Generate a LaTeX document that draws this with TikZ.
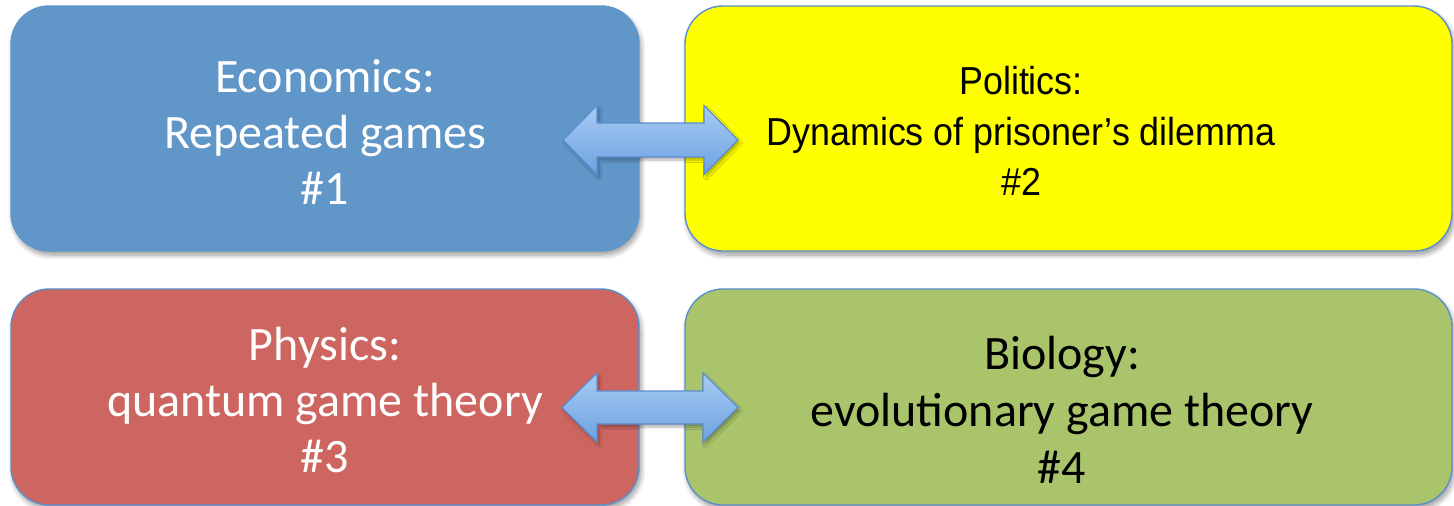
\documentclass[tikz,border=0pt]{standalone}
\usepackage{fontspec}
\newfontfamily\calibri{Carlito}
\newfontfamily\arialfont[FakeStretch=0.92]{Liberation Sans}
\usetikzlibrary{shadows.blur}
\definecolor{econblue}{HTML}{6096C8}
\definecolor{poliyellow}{HTML}{FFFF00}
\definecolor{physred}{HTML}{CD6660}
\definecolor{biogreen}{HTML}{AAC46C}
\definecolor{edgeblue}{HTML}{5B8FCC}
\definecolor{arrtop}{HTML}{A8CBF4}
\definecolor{arrbot}{HTML}{6CA2E0}
\definecolor{arredge}{HTML}{5A8ED0}
\begin{document}
\begin{tikzpicture}[x=1pt,y=-1pt,
  card/.style={rounded corners=38pt, line width=1.4pt, inner sep=0pt,
    blur shadow={shadow xshift=2pt, shadow yshift=-4pt, shadow blur radius=5pt,
      shadow blur steps=8, shadow opacity=40}},
  calibritext/.style={font=\calibri\fontsize{48}{56}\selectfont, anchor=base, inner sep=0pt},
  arialtext/.style={font=\arialfont\fontsize{39}{45}\selectfont, anchor=base, inner sep=0pt},
  blockarrow/.style={top color=arrtop, bottom color=arrbot, draw=arredge, line width=1.2pt,
    blur shadow={shadow xshift=2pt, shadow yshift=-3pt, shadow blur radius=2.5pt,
      shadow blur steps=6, shadow opacity=30}}]
\useasboundingbox (0,0) rectangle (1454,506);

% four topic cards
\node[card, fill=econblue, draw=econblue, minimum width=628pt, minimum height=245pt]
  (econ) at (325,128.5) {};
\node[card, fill=poliyellow, draw=edgeblue, minimum width=767pt, minimum height=245pt]
  (poli) at (1068.5,128.5) {};
\node[card, fill=physred, draw=edgeblue, minimum width=628pt, minimum height=216pt]
  (phys) at (325,397) {};
\node[card, fill=biogreen, draw=edgeblue, minimum width=767pt, minimum height=216pt]
  (bio) at (1068.5,397) {};

% card texts
\node[calibritext, text=white] (econ1) at (325,92)  {Economics:};
\node[calibritext, text=white] (econ2) at (325,148) {Repeated games};
\node[calibritext, text=white] (econ3) at (325,204) {\#1};

\node[arialtext, text=black] (poli1) at (1021,94.5)  {Politics:};
\node[arialtext, text=black] (poli2) at (1021,145) {Dynamics of prisoner’s dilemma};
\node[arialtext, text=black] (poli3) at (1021,195) {\#2};

\node[calibritext, text=white] (phys1) at (325,360) {Physics:};
\node[calibritext, text=white] (phys2) at (325,416) {quantum game theory};
\node[calibritext, text=white] (phys3) at (325,472) {\#3};

\node[calibritext, text=black] (bio1) at (1062,369) {Biology:};
\node[calibritext, text=black] (bio2) at (1062,426) {evolutionary game theory};
\node[calibritext, text=black] (bio3) at (1062,483) {\#4};

% two-way block arrows between the paired cards
\coordinate (toparrow) at (650.5,140);
\coordinate (botarrow) at (650,407.5);
\draw[blockarrow] (toparrow) ++(-87.5,0) -- ++(34,-34.5) -- ++(0,17.5) -- ++(107,0)
  -- ++(0,-17.5) -- ++(34,34.5) -- ++(-34,34.5) -- ++(0,-17.5) -- ++(-107,0)
  -- ++(0,17.5) -- cycle;
\draw[blockarrow] (botarrow) ++(-88,0) -- ++(35,-34.5) -- ++(0,18) -- ++(106,0)
  -- ++(0,-18) -- ++(35,34.5) -- ++(-35,34.5) -- ++(0,-18) -- ++(-106,0)
  -- ++(0,18) -- cycle;
\end{tikzpicture}
\end{document}
